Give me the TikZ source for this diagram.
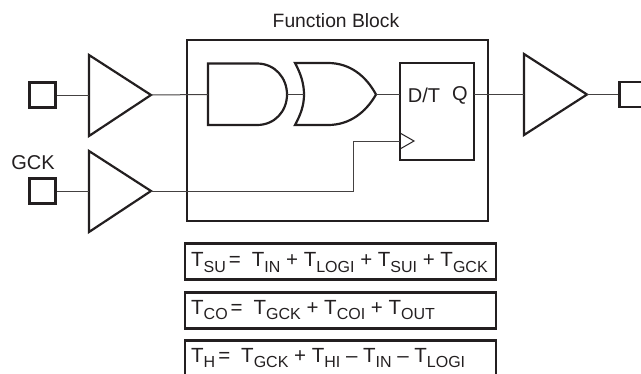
\documentclass[tikz,border=0pt]{standalone}
\usepackage{fontspec}
\setmainfont{Liberation Sans}
\definecolor{ink}{HTML}{231F20}
\tikzset{
  heavy/.style={draw=ink,line width=2.2,line join=miter},
  wire/.style={draw=ink!85,line width=1},
  padbox/.style={heavy,rectangle,minimum width=26,minimum height=25,inner sep=0},
  formula/.style={heavy,rectangle,minimum width=311,minimum height=36,inner sep=0},
  ftext/.style={anchor=base west,text=ink,inner sep=0,font=\fontsize{20.5}{20.5}\selectfont},
  lbl/.style={text=ink,font=\fontsize{20}{20}\selectfont,inner sep=0},
  titlelbl/.style={text=ink,font=\fontsize{19.3}{19.3}\selectfont,inner sep=0},
}
\newcommand{\Tt}[1]{T\raisebox{-5.5pt}{\fontsize{16}{16}\selectfont #1}}
\newcommand{\Eq}{\hspace{3pt}=\hspace{11pt}}
\begin{document}
\begin{tikzpicture}[x=1pt,y=-1pt]
\useasboundingbox (0,0) rectangle (641,373);
\clip (0,0) rectangle (641,373);
% pads
\node[padbox] (padA) at (42.5,95) {};
\node[padbox] (padB) at (42.5,191) {};
\node[padbox] (padC) at (632.5,94.5) {};
\node[lbl] (gck) at (33,163) {GCK};
\node[titlelbl] (title) at (336,21) {Function Block};
% function block
\node[heavy,rectangle,minimum width=301,minimum height=181,inner sep=0] (block) at (337.5,130.5) {};
% buffers
\draw[heavy] (89,55) -- (151,95) -- (89,136) -- cycle;
\coordinate (bufAin) at (89,95); \coordinate (bufAout) at (151,95);
\draw[heavy] (89,151) -- (151,191) -- (89,232) -- cycle;
\coordinate (bufBin) at (89,191); \coordinate (bufBout) at (151,191);
\draw[heavy] (524,54) -- (587,94.5) -- (524,135) -- cycle;
\coordinate (bufCin) at (524,94.5); \coordinate (bufCout) at (587,94.5);
% AND
\draw[heavy] (208,63.5) -- (257,63.5) .. controls (275,63.5) and (287,78) .. (287,94.5) .. controls (287,111) and (275,125) .. (257,125) -- (208,125) -- cycle;
\coordinate (andIn) at (208,94.5); \coordinate (andOut) at (287,94.5);
% OR
\draw[heavy] (295,63) -- (328,63) .. controls (350,63) and (366,76) .. (376,94.5) .. controls (366,112) and (350,125) .. (328,125) -- (295,125) .. controls (301,114) and (304,105) .. (304,94.5) .. controls (304,84) and (301,74) .. (295,63) -- cycle;
\coordinate (orIn) at (304,94.5); \coordinate (orOut) at (376,94.5);
% flip-flop
\node[heavy,rectangle,minimum width=74,minimum height=97,inner sep=0] (ff) at (437,111.5) {};
\coordinate (ffD) at (400,94.5); \coordinate (ffQ) at (474,94.5); \coordinate (ffClk) at (400,141);
\draw[draw=ink,line width=1] (400,133) -- (414,141) -- (400,149);
\node[lbl] (dt) at (424,95) {D/T};
\node[lbl] (q) at (460,95) {Q};
% wires
\draw[wire] (padA) -- (bufAin);
\draw[wire] (bufAout) -- (andIn);
\draw[wire] (andOut) -- (orIn);
\draw[wire] (orOut) -- (ffD);
\draw[wire] (ffQ) -- (bufCin);
\draw[wire] (bufCout) -- (padC);
\draw[wire] (padB) -- (bufBin);
\coordinate (bend) at (353,141);
\draw[wire] (bufBout) -- (353,191) -- (bend) -- (ffClk);
% formulas
\node[formula] (f1) at (340.5,261.5) {};
\node[formula] (f2) at (340.5,310.5) {};
\node[formula] (f3) at (340.5,358.5) {};
\node[ftext] (t1) at (191,266.5) {\Tt{SU}\Eq\Tt{IN} + \Tt{LOGI} + \Tt{SUI} + \Tt{GCK}};
\node[ftext] (t2) at (191,314) {\Tt{CO}\Eq\Tt{GCK} + \Tt{COI} + \Tt{OUT}};
\node[ftext] (t3) at (191,362) {\Tt{H}\Eq\Tt{GCK} + \Tt{HI} -- \Tt{IN} -- \Tt{LOGI}};
\end{tikzpicture}
\end{document}
